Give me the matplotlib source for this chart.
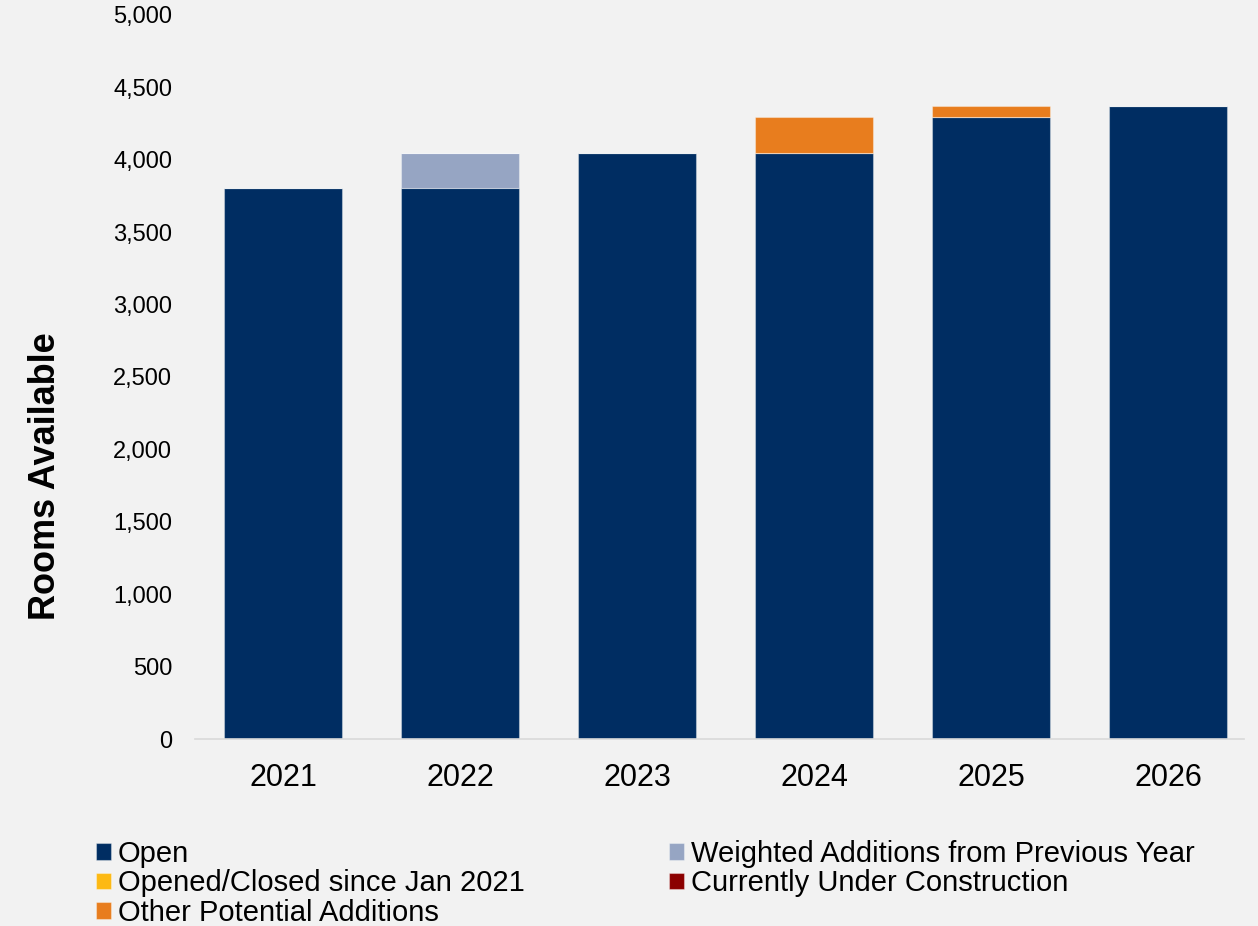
import matplotlib
matplotlib.use("Agg")
import matplotlib.pyplot as plt
import numpy as np

years = ["2021", "2022", "2023", "2024", "2025", "2026"]
open_rooms = [3808, 3808, 4047, 4047, 4298, 4372]
weighted_additions = [0, 239, 0, 0, 0, 0]
opened_closed = [0, 0, 0, 0, 0, 0]
under_construction = [0, 0, 0, 0, 0, 0]
other_potential = [0, 0, 0, 251, 74, 0]
y_ticks = [0, 500, 1000, 1500, 2000, 2500, 3000, 3500, 4000, 4500, 5000]

colors = {
    "Open": "#002D62",
    "Weighted Additions from Previous Year": "#96A5C3",
    "Opened/Closed since Jan 2021": "#FDB913",
    "Currently Under Construction": "#8B0000",
    "Other Potential Additions": "#E87D1E",
}

plt.rcParams['font.family'] = ['Liberation Sans', 'DejaVu Sans']
bg = "#F2F2F2"
fig = plt.figure(figsize=(12.58, 9.26), dpi=100, facecolor=bg)
ax = fig.add_axes([194.5/1258, 1-739/926, 1062/1258, 724/926], facecolor=bg)

x = np.arange(len(years))
w = 0.667
series = [
    ("Open", open_rooms),
    ("Weighted Additions from Previous Year", weighted_additions),
    ("Opened/Closed since Jan 2021", opened_closed),
    ("Currently Under Construction", under_construction),
    ("Other Potential Additions", other_potential),
]
bottom = np.zeros(len(years))
handles = {}
for name, vals in series:
    vals = np.array(vals, dtype=float)
    b = ax.bar(x, vals, w, bottom=bottom, color=colors[name],
               edgecolor=(1, 1, 1, 0.35), linewidth=0.8, label=name)
    handles[name] = b
    bottom += vals

ax.set_xlim(-0.5, len(years) - 0.5)
ax.set_ylim(0, 5000)
ax.set_yticks(y_ticks)
ax.set_yticklabels([f"{v:,}" for v in y_ticks], fontsize=17)
ax.set_xticks(x)
ax.set_xticklabels(years, fontsize=22)
ax.tick_params(axis='y', length=0, pad=16)
ax.tick_params(axis='x', length=0, pad=17)
for s in ["top", "right", "left"]:
    ax.spines[s].set_visible(False)
ax.spines["bottom"].set_color("#D9D9D9")
ax.spines["bottom"].set_linewidth(1.2)
ax.spines["bottom"].set_bounds(-0.5, 5.43)

fig.text(46/1258, 1-476/926, "Rooms Available", rotation=90, fontsize=26,
         fontweight='bold', ha='center', va='center')

order = ["Open", "Opened/Closed since Jan 2021", "Other Potential Additions",
         "Weighted Additions from Previous Year", "Currently Under Construction"]
leg = fig.legend([handles[n] for n in order], order, loc='upper left',
                 bbox_to_anchor=(96/1258, 1-840/926), ncol=2, frameon=False,
                 fontsize=21, handlelength=0.5, handleheight=0.5,
                 handletextpad=0.25, labelspacing=0.05, columnspacing=4.95,
                 borderpad=0, borderaxespad=0)

fig.savefig("out.png", dpi=100, facecolor=bg)
